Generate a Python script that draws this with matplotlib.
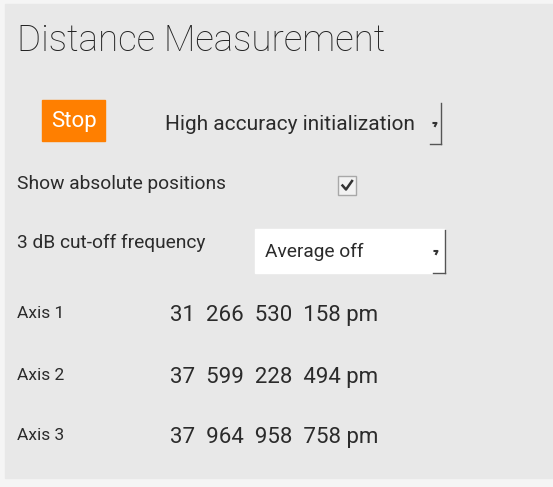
import matplotlib.pyplot as plt
from matplotlib.patches import Rectangle

# panel content
title = "Distance Measurement"
button_label = "Stop"
mode_option = "High accuracy initialization"
checkbox_label = "Show absolute positions"
filter_label = "3 dB cut-off frequency"
filter_option = "Average off"
axis_names = ["Axis 1", "Axis 2", "Axis 3"]
axis_positions_pm = [31266530158, 37599228494, 37964958758]

W, H = 553, 487
fig = plt.figure(figsize=(W / 100, H / 100), dpi=100)
fig.patch.set_facecolor("#f5f5f5")
ax = fig.add_axes([0, 0, 1, 1])
ax.set_xlim(0, W)
ax.set_ylim(H, 0)
ax.axis("off")

txt = "#2b2b2b"
fnt = "Roboto"

# panel background
ax.add_patch(Rectangle((5, 4), W - 5, 474, color="#e8e8e8", zorder=0))

ax.text(17, 41, title, fontsize=26.5, fontfamily=fnt, fontweight="light",
        color="#222222", va="center", ha="left")

# stop button
ax.add_patch(Rectangle((42, 100), 63, 41, color="#ff7f00"))
ax.text(73.5, 121, button_label, fontsize=16, fontfamily=fnt, color="white",
        va="center", ha="center")

# mode dropdown
ax.text(165, 124, mode_option, fontsize=15, fontfamily=fnt, color=txt,
        va="center", ha="left")
ax.plot([441, 441], [103, 144], color="#555555", lw=1)
ax.plot([430, 441], [144, 144], color="#555555", lw=1)
ax.plot([433.5, 436.5, 435], [123, 123, 126], color="#333333", lw=1.5)

# checkbox row
ax.text(17, 184, checkbox_label, fontsize=13.8, fontfamily=fnt, color=txt,
        va="center", ha="left")
ax.add_patch(Rectangle((338, 176), 18, 19, facecolor="#f2f2f2",
                       edgecolor="#a8a8a8", lw=1))
ax.plot([342.5, 346, 352], [185.5, 189.5, 181], color="#333333", lw=1.8)

# filter dropdown
ax.text(17, 243, filter_label, fontsize=13.8, fontfamily=fnt, color=txt,
        va="center", ha="left")
ax.add_patch(Rectangle((255, 229), 190, 44, color="white"))
ax.text(265, 252, filter_option, fontsize=13.8, fontfamily=fnt, color=txt,
        va="center", ha="left")
ax.plot([445, 445], [230, 273], color="#555555", lw=1)
ax.plot([433, 445], [273, 273], color="#555555", lw=1)
ax.plot([434.5, 437.5, 436], [251, 251, 254], color="#333333", lw=1.5)

# axis positions
for i, (name, val) in enumerate(zip(axis_names, axis_positions_pm)):
    y = 314 + i * 61
    ax.text(17, y, name, fontsize=12.5, fontfamily=fnt, color=txt,
            va="center", ha="left")
    groups = f"{val:,}".replace(",", "  ")
    ax.text(170, y + 2, groups + " pm", fontsize=16, fontfamily=fnt,
            color=txt, va="center", ha="left")

fig.savefig("out.png", dpi=100, facecolor=fig.get_facecolor())
